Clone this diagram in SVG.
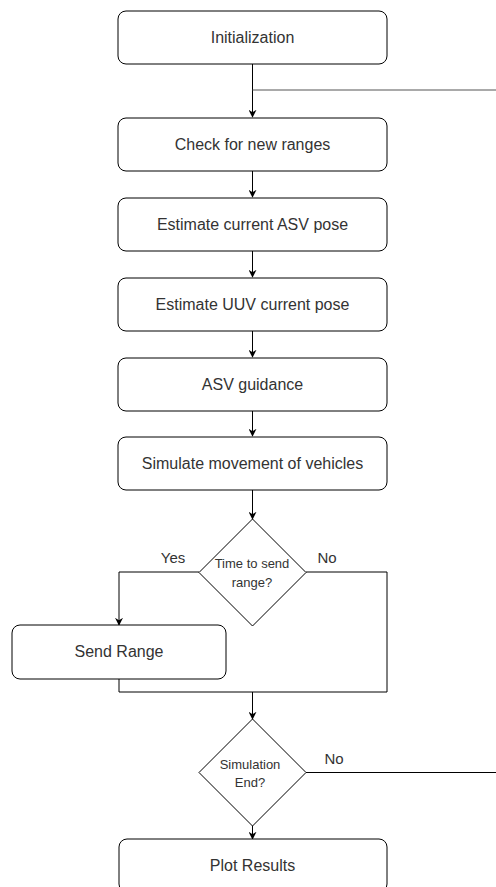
<svg xmlns="http://www.w3.org/2000/svg" width="496" height="887" viewBox="0 0 496 887">
<style>
.box{fill:#fff;stroke:#000;stroke-width:1}
.t{font-family:"Liberation Sans",Arial,sans-serif;font-size:16px;fill:#333;text-anchor:middle;dominant-baseline:central}
.s{font-size:13px}
.l{font-size:15px}
.c{fill:none;stroke:#000;stroke-width:1}
</style>
<defs>
<marker id="a" viewBox="0 0 10 10" refX="9" refY="5" markerWidth="8" markerHeight="8" markerUnits="userSpaceOnUse" orient="auto">
<path d="M0,0 L10,5 L0,10 L3,5 Z" fill="#000"/>
</marker>
</defs>
<rect width="496" height="887" fill="#fff"/>
<g id="connectors">
<path class="c" d="M252.5,64 V117" marker-end="url(#a)"/>
<path class="c" style="stroke:#555" d="M252.5,90 H496"/>
<path class="c" d="M252.5,171 V197" marker-end="url(#a)"/>
<path class="c" d="M252.5,251 V277" marker-end="url(#a)"/>
<path class="c" d="M252.5,331 V357" marker-end="url(#a)"/>
<path class="c" d="M252.5,411 V436" marker-end="url(#a)"/>
<path class="c" d="M252.5,490 V519" marker-end="url(#a)"/>
<path class="c" d="M199,572 H119 V625" marker-end="url(#a)"/>
<path class="c" d="M306,572 H387 V692 H119 V679"/>
<path class="c" d="M252.5,692 V719" marker-end="url(#a)"/>
<path class="c" d="M306,772.5 H496"/>
<path class="c" d="M252.5,826 V839" marker-end="url(#a)"/>
<text class="t l" x="173" y="557">Yes</text>
<text class="t l" x="327" y="557">No</text>
<text class="t l" x="334" y="758">No</text>
</g>
<g id="n1"><rect class="box" x="118" y="11" width="269" height="53" rx="8"/><text class="t" x="252.5" y="37.5">Initialization</text></g>
<g id="n2"><rect class="box" x="118" y="118" width="269" height="53" rx="8"/><text class="t" x="252.5" y="144.5">Check for new ranges</text></g>
<g id="n3"><rect class="box" x="118" y="198" width="269" height="53" rx="8"/><text class="t" x="252.5" y="224.5">Estimate current ASV pose</text></g>
<g id="n4"><rect class="box" x="118" y="278" width="269" height="53" rx="8"/><text class="t" x="252.5" y="304.5">Estimate UUV current pose</text></g>
<g id="n5"><rect class="box" x="118" y="358" width="269" height="53" rx="8"/><text class="t" x="252.5" y="384.5">ASV guidance</text></g>
<g id="n6"><rect class="box" x="118" y="437" width="269" height="53" rx="8"/><text class="t" x="252.5" y="463.5">Simulate movement of vehicles</text></g>
<g id="d1"><path class="box" d="M252.5,519 L306,572.5 L252.5,626 L199,572.5 Z"/><text class="t s" x="252" y="563">Time to send</text><text class="t s" x="252" y="582">range?</text></g>
<g id="n7"><rect class="box" x="12" y="625" width="214" height="54" rx="8"/><text class="t" x="119" y="651.5">Send Range</text></g>
<g id="d2"><path class="box" d="M252.5,719 L306,772.5 L252.5,826 L199,772.5 Z"/><text class="t s" x="250" y="764">Simulation</text><text class="t s" x="250" y="782">End?</text></g>
<g id="n8"><rect class="box" x="119" y="839" width="268" height="53" rx="8"/><text class="t" x="252.5" y="865">Plot Results</text></g>
</svg>
